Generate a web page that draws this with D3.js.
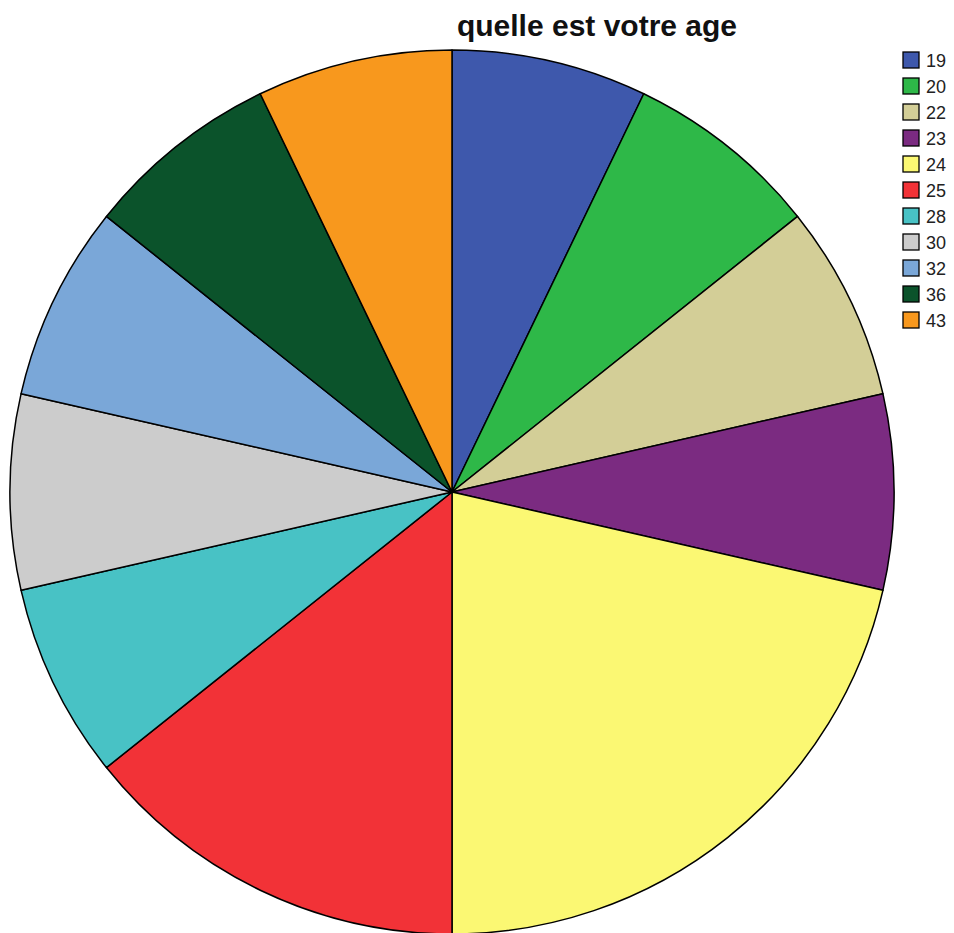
<!DOCTYPE html>
<html><head><meta charset="utf-8">
<script src="https://cdn.jsdelivr.net/npm/d3@7"></script>
<style>body{margin:0;background:#fff}svg{display:block}</style>
</head><body>
<script>
const categories = ["19","20","22","23","24","25","28","30","32","36","43"];
const counts = [1,1,1,1,3,2,1,1,1,1,1];
const colors = ["#3e58ac","#2eb848","#d3ce97","#7b2b81","#fbf873","#f23237","#48c2c5","#cccccc","#7aa7d8","#0b532b","#f8981d"];
const title = "quelle est votre age";

const W = 954, H = 933;
const svg = d3.select("body").append("svg").attr("width", W).attr("height", H);
const cx = 452, cy = 492, r = 442;

const data = categories.map((c,i)=>({cat:c, v:counts[i], col:colors[i]}));
const pie = d3.pie().value(d=>d.v).sort(null);
const arc = d3.arc().innerRadius(0).outerRadius(r);
svg.append("g").attr("transform",`translate(${cx},${cy})`)
  .selectAll("path").data(pie(data)).join("path")
  .attr("d", arc).attr("fill", d=>d.data.col)
  .attr("stroke","#000").attr("stroke-width",1.5).attr("stroke-linejoin","round");

svg.append("text").attr("x",597).attr("y",36).attr("text-anchor","middle")
  .attr("font-family","Liberation Sans, Arial, sans-serif").attr("font-weight","bold")
  .attr("font-size",30).attr("fill","#111").text(title);

const color = d3.scaleOrdinal().domain(categories).range(colors);
const ly = d3.scalePoint().domain(categories).range([60,320]);
const lg = svg.append("g");
categories.forEach(c=>{
  lg.append("rect").attr("x",903).attr("y",ly(c)-8).attr("width",16).attr("height",16)
    .attr("fill",color(c)).attr("stroke","#000").attr("stroke-width",1.3);
  lg.append("text").attr("x",926).attr("y",ly(c)+7)
    .attr("font-family","Liberation Sans, Arial, sans-serif").attr("font-size",18)
    .attr("fill","#222").text(c);
});
</script>
</body></html>
